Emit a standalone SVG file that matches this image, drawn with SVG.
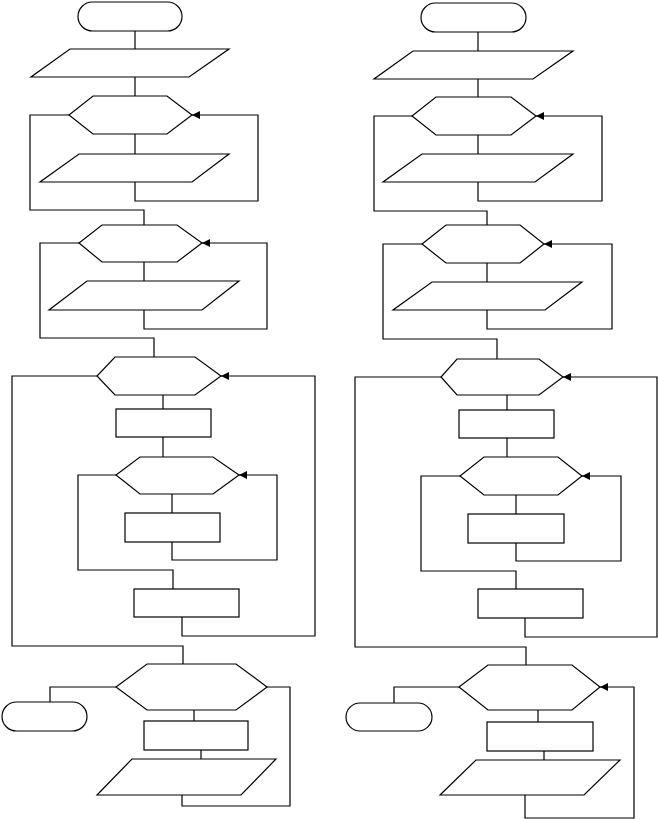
<svg xmlns="http://www.w3.org/2000/svg" width="658" height="819" viewBox="0 0 658 819">
<style>
.n{fill:#fff;stroke:#000;stroke-width:1.2}
.c{fill:none;stroke:#000;stroke-width:1.2}
</style>
<defs>
<marker id="ah" markerWidth="9" markerHeight="9" refX="8" refY="4" orient="auto" markerUnits="userSpaceOnUse">
<path d="M0,0 L8,4 L0,8 z" fill="#000"/>
</marker>
</defs>
<rect width="658" height="819" fill="#fff"/>
<g id="connectors">
<path class="c" d="M135,31 V49"/>
<path class="c" d="M135,77 V96"/>
<path class="c" d="M135,182 V201 H258 V115 H192" marker-end="url(#ah)"/>
<path class="c" d="M135,134 V154"/>
<path class="c" d="M69,115 H30 V210 H144 V225"/>
<path class="c" d="M144,262 V281"/>
<path class="c" d="M144,310 V329 H267 V243 H202" marker-end="url(#ah)"/>
<path class="c" d="M79,243 H40 V338 H154 V357"/>
<path class="c" d="M163,395 V409"/>
<path class="c" d="M163,437 V457"/>
<path class="c" d="M172,494 V513"/>
<path class="c" d="M172,542 V560 H277 V475 H239" marker-end="url(#ah)"/>
<path class="c" d="M116,475 H78 V570 H173 V589"/>
<path class="c" d="M182,617 V636 H315 V376 H221" marker-end="url(#ah)"/>
<path class="c" d="M97,376 H12 V646 H183 V664"/>
<path class="c" d="M116,687 H50 V702"/>
<path class="c" d="M194,710 V721"/>
<path class="c" d="M201,750 V759"/>
<path class="c" d="M182,795 V806 H290 V687 H267"/>

<path class="c" d="M478,32 V51"/>
<path class="c" d="M478,79 V97"/>
<path class="c" d="M478,182 V201 H602 V116 H536" marker-end="url(#ah)"/>
<path class="c" d="M478,135 V154"/>
<path class="c" d="M412,116 H374 V211 H487 V225"/>
<path class="c" d="M487,263 V282"/>
<path class="c" d="M487,310 V329 H612 V244 H544" marker-end="url(#ah)"/>
<path class="c" d="M422,244 H383 V339 H497 V359"/>
<path class="c" d="M507,395 V410"/>
<path class="c" d="M507,438 V457"/>
<path class="c" d="M516,495 V514"/>
<path class="c" d="M516,543 V561 H621 V476 H582" marker-end="url(#ah)"/>
<path class="c" d="M460,476 H421 V571 H516 V589"/>
<path class="c" d="M525,618 V637 H657 V377 H563" marker-end="url(#ah)"/>
<path class="c" d="M441,377 H355 V647 H526 V665"/>
<path class="c" d="M459,687 H394 V703"/>
<path class="c" d="M538,710 V722"/>
<path class="c" d="M544,751 V760"/>
<path class="c" d="M525,795 V818 H634 V687 H600" marker-end="url(#ah)"/>
</g>

<g id="L-start"><rect class="n" x="78" y="2" width="104" height="29" rx="14.5"/></g>
<g id="L-io1"><polygon class="n" points="70,49 229,49 189,77 31,77"/></g>
<g id="L-loop1"><polygon class="n" points="93,96 167,96 192,115 167,134 93,134 69,115"/></g>
<g id="L-io2"><polygon class="n" points="79,154 229,154 192,182 40,182"/></g>
<g id="L-loop2"><polygon class="n" points="102,225 177,225 202,243 177,262 102,262 79,243"/></g>
<g id="L-io3"><polygon class="n" points="87,281 239,281 202,310 49,310"/></g>
<g id="L-loop3"><polygon class="n" points="115,357 195,357 221,376 195,395 115,395 97,376"/></g>
<g id="L-proc1"><rect class="n" x="116" y="409" width="95" height="28"/></g>
<g id="L-loop4"><polygon class="n" points="140,457 213,457 239,475 213,494 140,494 116,475"/></g>
<g id="L-proc2"><rect class="n" x="125" y="513" width="95" height="29"/></g>
<g id="L-proc3"><rect class="n" x="134" y="589" width="105" height="28"/></g>
<g id="L-loop5"><polygon class="n" points="147,664 236,664 267,687 236,710 147,710 116,687"/></g>
<g id="L-end"><rect class="n" x="2" y="702" width="85" height="29" rx="14.5"/></g>
<g id="L-proc4"><rect class="n" x="144" y="721" width="104" height="29"/></g>
<g id="L-io4"><polygon class="n" points="132,759 276,759 241,795 97,795"/></g>

<g id="R-start"><rect class="n" x="421" y="3" width="105" height="29" rx="14.5"/></g>
<g id="R-io1"><polygon class="n" points="413,51 573,51 533,79 374,79"/></g>
<g id="R-loop1"><polygon class="n" points="436,97 511,97 536,116 511,135 436,135 412,116"/></g>
<g id="R-io2"><polygon class="n" points="422,154 573,154 535,182 383,182"/></g>
<g id="R-loop2"><polygon class="n" points="446,225 520,225 544,244 520,263 446,263 422,244"/></g>
<g id="R-io3"><polygon class="n" points="432,282 582,282 545,310 393,310"/></g>
<g id="R-loop3"><polygon class="n" points="457,359 539,359 563,377 539,395 457,395 441,377"/></g>
<g id="R-proc1"><rect class="n" x="459" y="410" width="95" height="28"/></g>
<g id="R-loop4"><polygon class="n" points="484,457 558,457 582,476 558,495 484,495 460,476"/></g>
<g id="R-proc2"><rect class="n" x="468" y="514" width="96" height="29"/></g>
<g id="R-proc3"><rect class="n" x="478" y="589" width="105" height="29"/></g>
<g id="R-loop5"><polygon class="n" points="488,665 572,665 600,687 572,710 488,710 459,687"/></g>
<g id="R-end"><rect class="n" x="346" y="703" width="86" height="28" rx="14"/></g>
<g id="R-proc4"><rect class="n" x="487" y="722" width="106" height="29"/></g>
<g id="R-io4"><polygon class="n" points="476,760 620,760 584,795 440,795"/></g>
</svg>
